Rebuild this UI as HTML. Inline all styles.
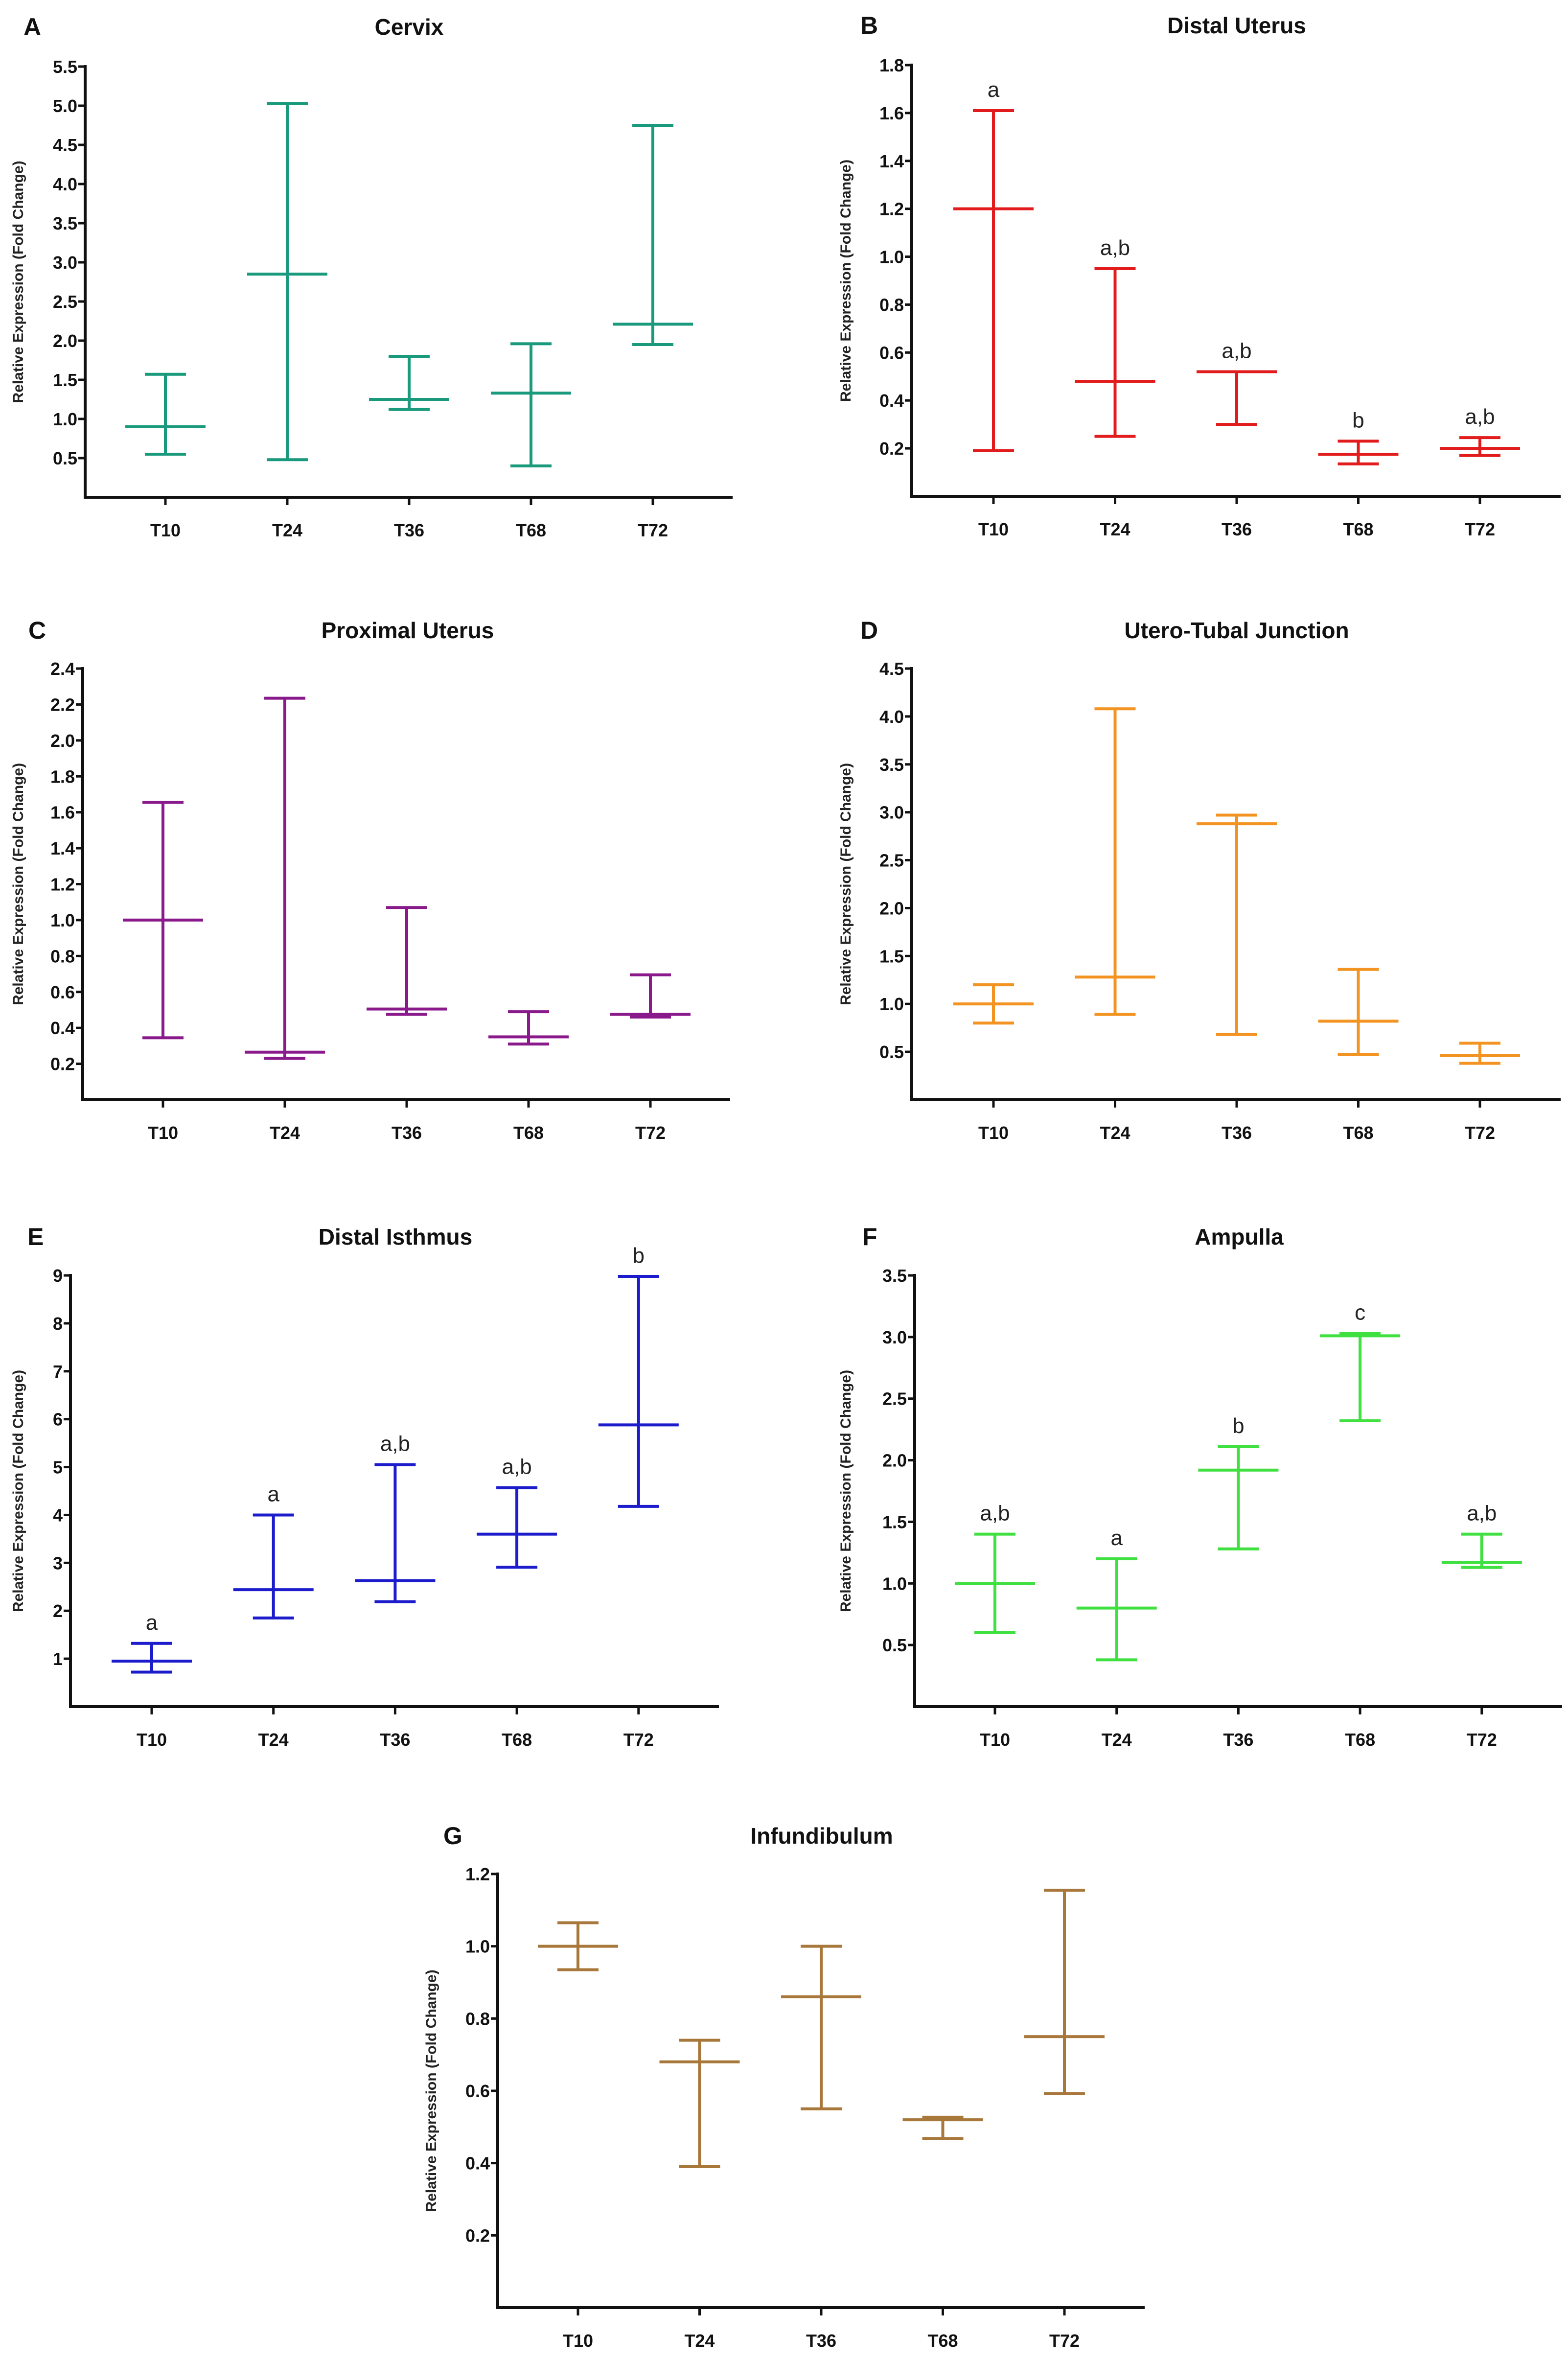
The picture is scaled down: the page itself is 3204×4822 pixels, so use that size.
<!DOCTYPE html>
<html><head><meta charset="utf-8"><style>
html,body{margin:0;padding:0;background:#fff;}
svg{display:block;}
text{font-family:"Liberation Sans",sans-serif;}
</style></head><body>
<svg id="fig" width="3204" height="4822" viewBox="0 0 3204 4822" xmlns="http://www.w3.org/2000/svg"></svg>
<script>
const categories = ["T10","T24","T36","T68","T72"];
const cervixMean = [0.9, 2.85, 1.25, 1.33, 2.21];
const cervixHigh = [1.57, 5.03, 1.80, 1.96, 4.75];
const cervixLow  = [0.55, 0.48, 1.12, 0.40, 1.95];
const cervixTicks = [0.5,1.0,1.5,2.0,2.5,3.0,3.5,4.0,4.5,5.0,5.5];
const cervixLetters = ["","","","",""];

const distalUterusMean = [1.2, 0.48, 0.52, 0.175, 0.20];
const distalUterusHigh = [1.61, 0.95, 0.52, 0.23, 0.245];
const distalUterusLow  = [0.19, 0.25, 0.30, 0.135, 0.17];
const distalUterusTicks = [0.2,0.4,0.6,0.8,1.0,1.2,1.4,1.6,1.8];
const distalUterusLetters = ["a","a,b","a,b","b","a,b"];

const proximalUterusMean = [1.0, 0.265, 0.505, 0.35, 0.475];
const proximalUterusHigh = [1.655, 2.235, 1.07, 0.49, 0.695];
const proximalUterusLow  = [0.345, 0.23, 0.475, 0.31, 0.46];
const proximalUterusTicks = [0.2,0.4,0.6,0.8,1.0,1.2,1.4,1.6,1.8,2.0,2.2,2.4];
const proximalUterusLetters = ["","","","",""];

const utjMean = [1.0, 1.28, 2.88, 0.82, 0.46];
const utjHigh = [1.2, 4.08, 2.97, 1.36, 0.59];
const utjLow  = [0.8, 0.89, 0.68, 0.47, 0.38];
const utjTicks = [0.5,1.0,1.5,2.0,2.5,3.0,3.5,4.0,4.5];
const utjLetters = ["","","","",""];

const isthmusMean = [0.95, 2.44, 2.63, 3.6, 5.88];
const isthmusHigh = [1.32, 4.0, 5.05, 4.57, 8.98];
const isthmusLow  = [0.72, 1.85, 2.19, 2.91, 4.18];
const isthmusTicks = [1,2,3,4,5,6,7,8,9];
const isthmusLetters = ["a","a","a,b","a,b","b"];

const ampullaMean = [1.0, 0.8, 1.92, 3.01, 1.17];
const ampullaHigh = [1.4, 1.2, 2.11, 3.03, 1.40];
const ampullaLow  = [0.6, 0.38, 1.28, 2.32, 1.13];
const ampullaTicks = [0.5,1.0,1.5,2.0,2.5,3.0,3.5];
const ampullaLetters = ["a,b","a","b","c","a,b"];

const infundMean = [1.0, 0.68, 0.86, 0.52, 0.75];
const infundHigh = [1.065, 0.74, 1.0, 0.527, 1.155];
const infundLow  = [0.935, 0.39, 0.55, 0.468, 0.592];
const infundTicks = [0.2,0.4,0.6,0.8,1.0,1.2];
const infundLetters = ["","","","",""];

const NS = "http://www.w3.org/2000/svg";
const svg = document.getElementById("fig");
function mk(tag, attrs, parent){
  const e = document.createElementNS(NS, tag);
  for (const k in attrs) e.setAttribute(k, attrs[k]);
  parent.appendChild(e);
  return e;
}
function panel(cfg){
  const g = mk("g", {}, svg);
  
  
  const yScale = v => cfg.y0 - v * (cfg.y0 - cfg.yTop) / cfg.vTop;
  const xScale = i => cfg.x0 + cfg.dx * i + cfg.firstOff;
  const pl = mk("text", {x: cfg.lx, y: cfg.ty + 17, "font-size": 50, "font-weight": "bold", fill: "#111"}, g);
  pl.textContent = cfg.letter;
  
  
  const t = mk("text", {x: cfg.tx, y: cfg.ty + 16, "font-size": 46, "font-weight": "bold", "text-anchor": "middle", fill: "#111", "font-stretch": "condensed"}, g);
  t.textContent = cfg.title;
  
  
  const yc = (cfg.yTop + cfg.y0) / 2;
  const yt = mk("text", {x: 0, y: 0, "font-size": 30, "font-weight": "bold", "text-anchor": "middle", fill: "#222",
    transform: "translate(" + (cfg.ytx + 11) + "," + yc + ") rotate(-90)"}, g);
  yt.textContent = "Relative Expression (Fold Change)";
  
  
  const ya = mk("line", {x1: cfg.x0, y1: yScale(cfg.vTop) - 3, x2: cfg.x0, y2: cfg.y0 + 3, stroke: "#111", "stroke-width": 6}, g);
  
  
  const xa = mk("line", {x1: cfg.x0 - 3, y1: cfg.y0, x2: cfg.xEnd, y2: cfg.y0, stroke: "#111", "stroke-width": 6}, g);
  
  
  cfg.ticks.forEach(v => {
    const y = yScale(v);
    const tk = mk("line", {x1: cfg.x0 - 14, y1: y, x2: cfg.x0, y2: y, stroke: "#111", "stroke-width": 5}, g);
    
    
    const tl = mk("text", {x: cfg.x0 - 16, y: y + 13, "font-size": 36, "font-weight": "bold", "text-anchor": "end", fill: "#111", "font-stretch": "condensed"}, g);
    tl.textContent = cfg.tickFmt(v);
    
    
  });
  categories.forEach((c, i) => {
    const x = xScale(i);
    const tk = mk("line", {x1: x, y1: cfg.y0, x2: x, y2: cfg.y0 + 16, stroke: "#111", "stroke-width": 5}, g);
    
    
    const tl = mk("text", {x: x, y: cfg.y0 + 80, "font-size": 36, "font-weight": "bold", "text-anchor": "middle", fill: "#111", "font-stretch": "condensed"}, g);
    tl.textContent = c;
    
    
    const eg = mk("g", {stroke: cfg.color, "stroke-width": 6, fill: "none"}, g);
    
    
    const yh = yScale(cfg.high[i]), yl = yScale(cfg.low[i]), ym = yScale(cfg.mean[i]);
    mk("line", {x1: x, y1: yh, x2: x, y2: yl}, eg);
    mk("line", {x1: x - 42, y1: yh, x2: x + 42, y2: yh}, eg);
    mk("line", {x1: x - 42, y1: yl, x2: x + 42, y2: yl}, eg);
    const ml = mk("line", {x1: x - 82, y1: ym, x2: x + 82, y2: ym}, eg);
    
    
    const lt = cfg.letters[i];
    if (lt) {
      const lx = mk("text", {x: x, y: Math.min(yh, ym) - 28, "font-size": 44, "text-anchor": "middle", fill: "#222", "font-stretch": "condensed"}, g);
      lx.textContent = lt;
      
      
    }
  });
}
const f1 = v => v.toFixed(1);
const f0 = v => String(v);
panel({name:"cervix", letter:"A", title:"Cervix", lx:48, tx:836, ty:55, ytx:36, x0:174, y0:1016, yTop:136, vTop:5.5, xEnd:1497, firstOff:164, dx:249,
  color:"#1a9a7c", mean:cervixMean, high:cervixHigh, low:cervixLow, ticks:cervixTicks, letters:cervixLetters, tickFmt:f1});
panel({name:"distal-uterus", letter:"B", title:"Distal Uterus", lx:1758, tx:2527, ty:52, ytx:1727, x0:1863, y0:1014, yTop:133, vTop:1.8, xEnd:3189, firstOff:167, dx:248.5,
  color:"#e21c1c", mean:distalUterusMean, high:distalUterusHigh, low:distalUterusLow, ticks:distalUterusTicks, letters:distalUterusLetters, tickFmt:f1});
panel({name:"proximal-uterus", letter:"C", title:"Proximal Uterus", lx:58, tx:833, ty:1288, ytx:36, x0:169, y0:2247, yTop:1366, vTop:2.4, xEnd:1492, firstOff:164, dx:249,
  color:"#8a1a8c", mean:proximalUterusMean, high:proximalUterusHigh, low:proximalUterusLow, ticks:proximalUterusTicks, letters:proximalUterusLetters, tickFmt:f1});
panel({name:"utero-tubal-junction", letter:"D", title:"Utero-Tubal Junction", lx:1758, tx:2527, ty:1288, ytx:1727, x0:1863, y0:2247, yTop:1366, vTop:4.5, xEnd:3189, firstOff:167, dx:248.5,
  color:"#f39422", mean:utjMean, high:utjHigh, low:utjLow, ticks:utjTicks, letters:utjLetters, tickFmt:f1});
panel({name:"distal-isthmus", letter:"E", title:"Distal Isthmus", lx:56, tx:808, ty:2527, ytx:36, x0:144, y0:3487, yTop:2606, vTop:9, xEnd:1469, firstOff:166, dx:248.7,
  color:"#1c1ccc", mean:isthmusMean, high:isthmusHigh, low:isthmusLow, ticks:isthmusTicks, letters:isthmusLetters, tickFmt:f0});
panel({name:"ampulla", letter:"F", title:"Ampulla", lx:1762, tx:2532, ty:2527, ytx:1727, x0:1869, y0:3487, yTop:2606, vTop:3.5, xEnd:3192, firstOff:164, dx:248.7,
  color:"#3fe03f", mean:ampullaMean, high:ampullaHigh, low:ampullaLow, ticks:ampullaTicks, letters:ampullaLetters, tickFmt:f1});
panel({name:"infundibulum", letter:"G", title:"Infundibulum", lx:906, tx:1679, ty:3751, ytx:880, x0:1017, y0:4715, yTop:3829, vTop:1.2, xEnd:2339, firstOff:164, dx:248.5,
  color:"#a8773a", mean:infundMean, high:infundHigh, low:infundLow, ticks:infundTicks, letters:infundLetters, tickFmt:f1});
</script>
</body></html>
